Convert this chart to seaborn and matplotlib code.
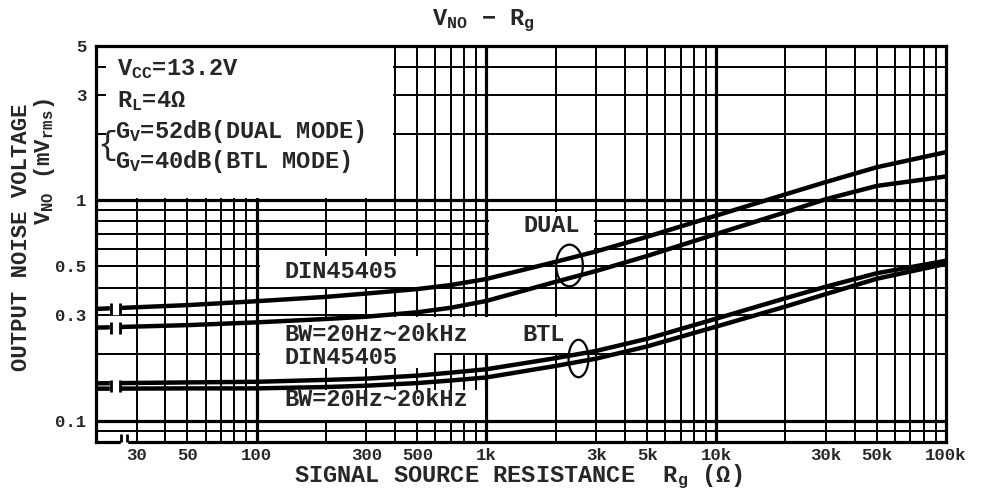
import numpy as np
import pandas as pd
import seaborn as sns
import matplotlib.pyplot as plt
from matplotlib.path import Path
from matplotlib.transforms import Affine2D
from matplotlib.ticker import FixedLocator, LogLocator, NullFormatter

# values (Rg in ohm, Vno in mVrms)
rg = [20, 50, 100, 200, 300, 500, 700, 1000, 2000, 3000, 5000,
      10000, 20000, 30000, 50000, 100000]
dual_din = [0.321, 0.334, 0.348, 0.364, 0.377, 0.395, 0.412, 0.439, 0.525,
            0.585, 0.682, 0.851, 1.062, 1.208, 1.41, 1.65]
dual_bw = [0.264, 0.271, 0.279, 0.289, 0.296, 0.310, 0.325, 0.349, 0.426,
           0.477, 0.558, 0.702, 0.881, 1.01, 1.16, 1.28]
btl_din = [0.1476, 0.149, 0.150, 0.153, 0.155, 0.160, 0.165, 0.171, 0.192,
           0.207, 0.235, 0.290, 0.359, 0.405, 0.466, 0.531]
btl_bw = [0.1396, 0.140, 0.140, 0.142, 0.144, 0.148, 0.152, 0.157, 0.177,
          0.191, 0.217, 0.267, 0.329, 0.375, 0.440, 0.514]

x_ticks = [30, 50, 100, 300, 500, 1000, 3000, 5000, 10000, 30000, 50000, 100000]
x_labels = ['30', '50', '100', '300', '500', '1k', '3k', '5k', '10k', '30k', '50k', '100k']
y_ticks = [0.1, 0.3, 0.5, 1, 3, 5]
y_labels = ['0.1', '0.3', '0.5', '1', '3', '5']

df = pd.DataFrame({
    'Rg': rg * 4,
    'Vno': dual_din + dual_bw + btl_din + btl_bw,
    'curva': ['dual_din'] * len(rg) + ['dual_bw'] * len(rg)
             + ['btl_din'] * len(rg) + ['btl_bw'] * len(rg),
})

sns.set_style('white')
plt.rcParams['font.family'] = ['Liberation Mono', 'DejaVu Sans']
plt.rcParams['font.weight'] = 'bold'
plt.rcParams['mathtext.fontset'] = 'custom'
plt.rcParams['mathtext.rm'] = 'Liberation Mono:bold'
plt.rcParams['mathtext.it'] = 'Liberation Mono:bold'
plt.rcParams['mathtext.bf'] = 'Liberation Mono:bold'

fig = plt.figure(figsize=(9.82, 4.96), dpi=100)
ax = fig.add_axes([0.0978, 0.1089, 0.8656, 0.7984])
ax.set_xscale('log')
ax.set_yscale('log')

# white areas behind the texts
cajas = [(22, 392, 1.025, 5), (1025, 2930, 0.508, 0.885), (103, 590, 0.405, 0.56),
         (103, 2930, 0.203, 0.296), (103, 590, 0.173, 0.21), (103, 985, 0.101, 0.137)]
for x0, x1, y0, y1 in cajas:
    ax.fill_between([x0, x1], y0, y1, color='white', lw=0, zorder=1)

sns.lineplot(data=df, x='Rg', y='Vno', units='curva', estimator=None,
             color='black', lw=3.2, legend=False, ax=ax, zorder=3)
ax.set_xlabel('')
ax.set_ylabel('')
ax.set_xlim(20, 100000)
ax.set_ylim(0.08, 5)

# grid: every 1..9 step of each decade, decades a bit heavier
ax.xaxis.set_major_locator(FixedLocator(x_ticks))
ax.xaxis.set_minor_locator(LogLocator(base=10, subs=np.arange(1, 10), numticks=50))
ax.xaxis.set_minor_formatter(NullFormatter())
ax.yaxis.set_major_locator(FixedLocator(y_ticks))
ax.yaxis.set_minor_locator(LogLocator(base=10, subs=np.arange(1, 10), numticks=50))
ax.yaxis.set_minor_formatter(NullFormatter())
ax.set_xticks(x_ticks, x_labels)
ax.set_yticks(y_ticks, y_labels)
ax.set_axisbelow(True)
ax.grid(which='both', color='black', lw=1.4)
for d in [100, 1000, 10000]:
    ax.axvline(d, color='black', lw=2.3, zorder=0.6)
for d in [0.1, 1]:
    ax.axhline(d, color='black', lw=2.3, zorder=0.6)

ax.tick_params(which='both', length=0)
ax.tick_params(axis='x', pad=4, labelsize=12.5)
ax.tick_params(axis='y', pad=7, labelsize=12.5)
for s in ax.spines.values():
    s.set_color('black')
    s.set_linewidth(2.3)

# breaks near the left edge
brk_y = [dual_din[0], dual_bw[0], (btl_din[0] * btl_bw[0]) ** 0.5]
ax.plot([24.2] * 3, brk_y, ls='none', marker='s', ms=7.5, mfc='white', mec='white', zorder=4)
ax.plot([23.3] * 3, brk_y, ls='none', marker='|', ms=9, mew=2, color='black', zorder=5)
ax.plot([25.4] * 3, brk_y, ls='none', marker='|', ms=9, mew=2, color='black', zorder=5)
ax.plot([26.5], [0.08], ls='none', marker='s', ms=4.5, mfc='white', mec='white',
        zorder=6, clip_on=False)
ax.plot([25.7, 27.4], [0.08, 0.08], ls='none', marker=2, ms=6, mew=2, color='black',
        zorder=7, clip_on=False)

# loops grouping each pair
def lazo(aspecto):
    return Affine2D().scale(aspecto, 1).transform_path(Path.unit_circle())

ax.plot([2280], [0.508], ls='none', marker=lazo(0.64), ms=30, mfc='none', mec='black',
        mew=1.6, zorder=4)
ax.plot([2495], [0.193], ls='none', marker=lazo(0.53), ms=27, mfc='none', mec='black',
        mew=1.6, zorder=4)

fs = 17
ax.text(132, 0.444, 'DIN45405', fontsize=fs, zorder=4)
ax.text(132, 0.230, 'BW=20Hz~20kHz', fontsize=fs, zorder=4)
ax.text(132, 0.181, 'DIN45405', fontsize=fs, zorder=4)
ax.text(132, 0.117, 'BW=20Hz~20kHz', fontsize=fs, zorder=4)
ax.text(1452, 0.716, 'DUAL', fontsize=fs, zorder=4)
ax.text(1440, 0.230, 'BTL', fontsize=fs, zorder=4)

ax.text(0.0247, 0.927, r'V$_{\rm CC}$=13.2V', transform=ax.transAxes, fontsize=fs, zorder=4)
ax.text(0.0247, 0.846, r'R$_{\rm L}$=4Ω', transform=ax.transAxes, fontsize=fs, zorder=4)
ax.text(0.0225, 0.768, r'G$_{\rm V}$=52dB(DUAL MODE)', transform=ax.transAxes,
        fontsize=fs, zorder=4)
ax.text(0.0225, 0.692, r'G$_{\rm V}$=40dB(BTL MODE)', transform=ax.transAxes,
        fontsize=fs, zorder=4)
ax.text(0.013, 0.748, '{', transform=ax.transAxes, fontsize=24, ha='center', va='center',
        fontweight='normal', zorder=4)

fig.text(0.492, 0.958, r'V$_{\rm NO}$ $-$ R$_{\rm g}$', fontsize=fs, ha='center', va='center')
fig.text(0.5275, 0.038, r'SIGNAL SOURCE RESISTANCE  R$_{\rm g}$ (Ω)', fontsize=fs,
         ha='center', va='center')
fig.text(0.0224, 0.522, 'OUTPUT NOISE VOLTAGE', fontsize=16, rotation=90,
         ha='center', va='center')
fig.text(0.0458, 0.675, r'V$_{\rm NO}$ (mV$_{\rm rms}$)', fontsize=16, rotation=90,
         ha='center', va='center')

plt.savefig('out.png', dpi=100)
